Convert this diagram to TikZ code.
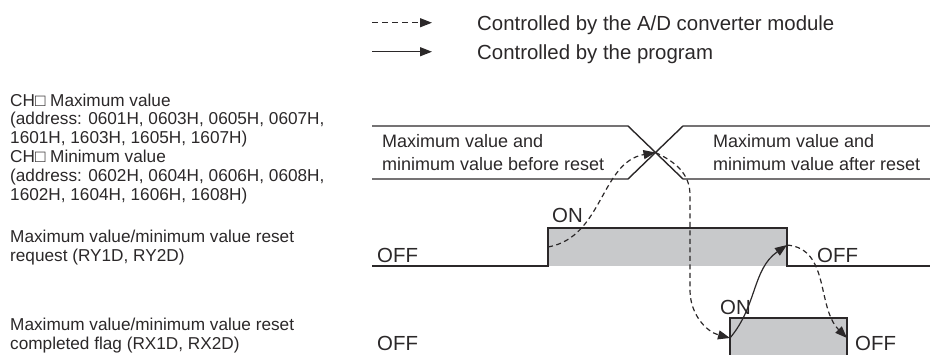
\documentclass[tikz,border=0pt]{standalone}
\usepackage{fontspec}
\setmainfont{Liberation Sans}
\usetikzlibrary{arrows.meta}
\definecolor{inkDark}{HTML}{2B2829}
\definecolor{barGray}{HTML}{C8C9CB}
\newcommand\sigtxt{\fontsize{20.4}{24}\selectfont}
\newcommand\lbltxt{\fontsize{17.2}{18.8}\selectfont}
\newcommand\bustxt{\fontsize{18}{23}\selectfont}

\begin{document}
\begin{tikzpicture}[x=1pt,y=-1pt,>={Triangle[length=12pt,width=9pt]},
  wave/.style={draw=inkDark,line width=1.4pt},
  ctrl/.style={->,draw=inkDark,line width=1.2pt},
  adctrl/.style={ctrl,dash pattern=on 5pt off 3.5pt},
  lbl/.style={inner sep=0pt,anchor=west,align=left,text=inkDark,font=\lbltxt},
  bus/.style={lbl,font=\bustxt},
  sig/.style={inner sep=0pt,anchor=base west,text=inkDark,font=\sigtxt}]
  \useasboundingbox (0,0) rectangle (930,354);

  % legend
  \node[sig] (lg1) at (477,30) {Controlled by the A/D converter module};
  \node[sig] (lg2) at (477,59) {Controlled by the program};
  \draw[adctrl,dash pattern=on 6pt off 4pt] ([shift={(-105,-2)}]lg1.west) -- ([shift={(-45,-2)}]lg1.west);
  \draw[ctrl] ([shift={(-105,-2)}]lg2.west) -- ([shift={(-45,-2)}]lg2.west);

  % signal names
  \node[lbl] (chv) at (10,148.6)
    {CH□ Maximum value\\(address: 0601H, 0603H, 0605H, 0607H,\\1601H, 1603H, 1605H, 1607H)\\CH□ Minimum value\\(address: 0602H, 0604H, 0606H, 0608H,\\1602H, 1604H, 1606H, 1608H)};
  \node[lbl] (rqt) at (10,247.9)
    {Maximum value/minimum value reset\\request (RY1D, RY2D)};
  \node[lbl] (cft) at (10,335.5)
    {Maximum value/minimum value reset\\completed flag (RX1D, RX2D)};

  % stored values
  \draw[wave] (372,126) -- (628,126) -- (683,179) -- (930,179);
  \draw[wave] (372,179) -- (628,179) -- (683,126) -- (930,126);
  \coordinate (cross) at (655.5,152.5);
  \node[bus] (bv1) at (382,153) {Maximum value and\\minimum value before reset};
  \node[bus] (bv2) at (713,153) {Maximum value and\\minimum value after reset};

  % reset request
  \fill[barGray] (548,228) rectangle (787,266);
  \draw[wave] (372,266) -- (548,266) -- (548,228) -- (787,228) -- (787,266) -- (930,266);
  \coordinate (rqOn) at (548,247);
  \coordinate (rqOff) at (787,245);
  \node[sig] (on1) at (552,222) {ON};
  \node[sig] (of1) at (377,262) {OFF};
  \node[sig] (of2) at (817,262) {OFF};

  % reset completed
  \fill[barGray] (730,318) rectangle (847,357);
  \draw[wave] (372,357) -- (730,357) -- (730,318) -- (847,318) -- (847,357) -- (930,357);
  \coordinate (cfOn) at (730,338);
  \coordinate (cfOff) at (847,338);
  \node[sig] (on2) at (720,314) {ON};
  \node[sig] (of3) at (377,350) {OFF};
  \node[sig] (of4) at (855,350) {OFF};

  % handshake
  \draw[adctrl] (rqOn) to[out=10,in=190] (cross);
  \draw[adctrl] (cross) to[out=-25,in=90] (690,195) -- (690,290) to[out=-90,in=165] (cfOn);
  \draw[ctrl] (cfOn) to[out=50,in=215] (rqOff);
  \draw[adctrl] (rqOff) to[out=-5,in=135] (cfOff);
\end{tikzpicture}
\end{document}
